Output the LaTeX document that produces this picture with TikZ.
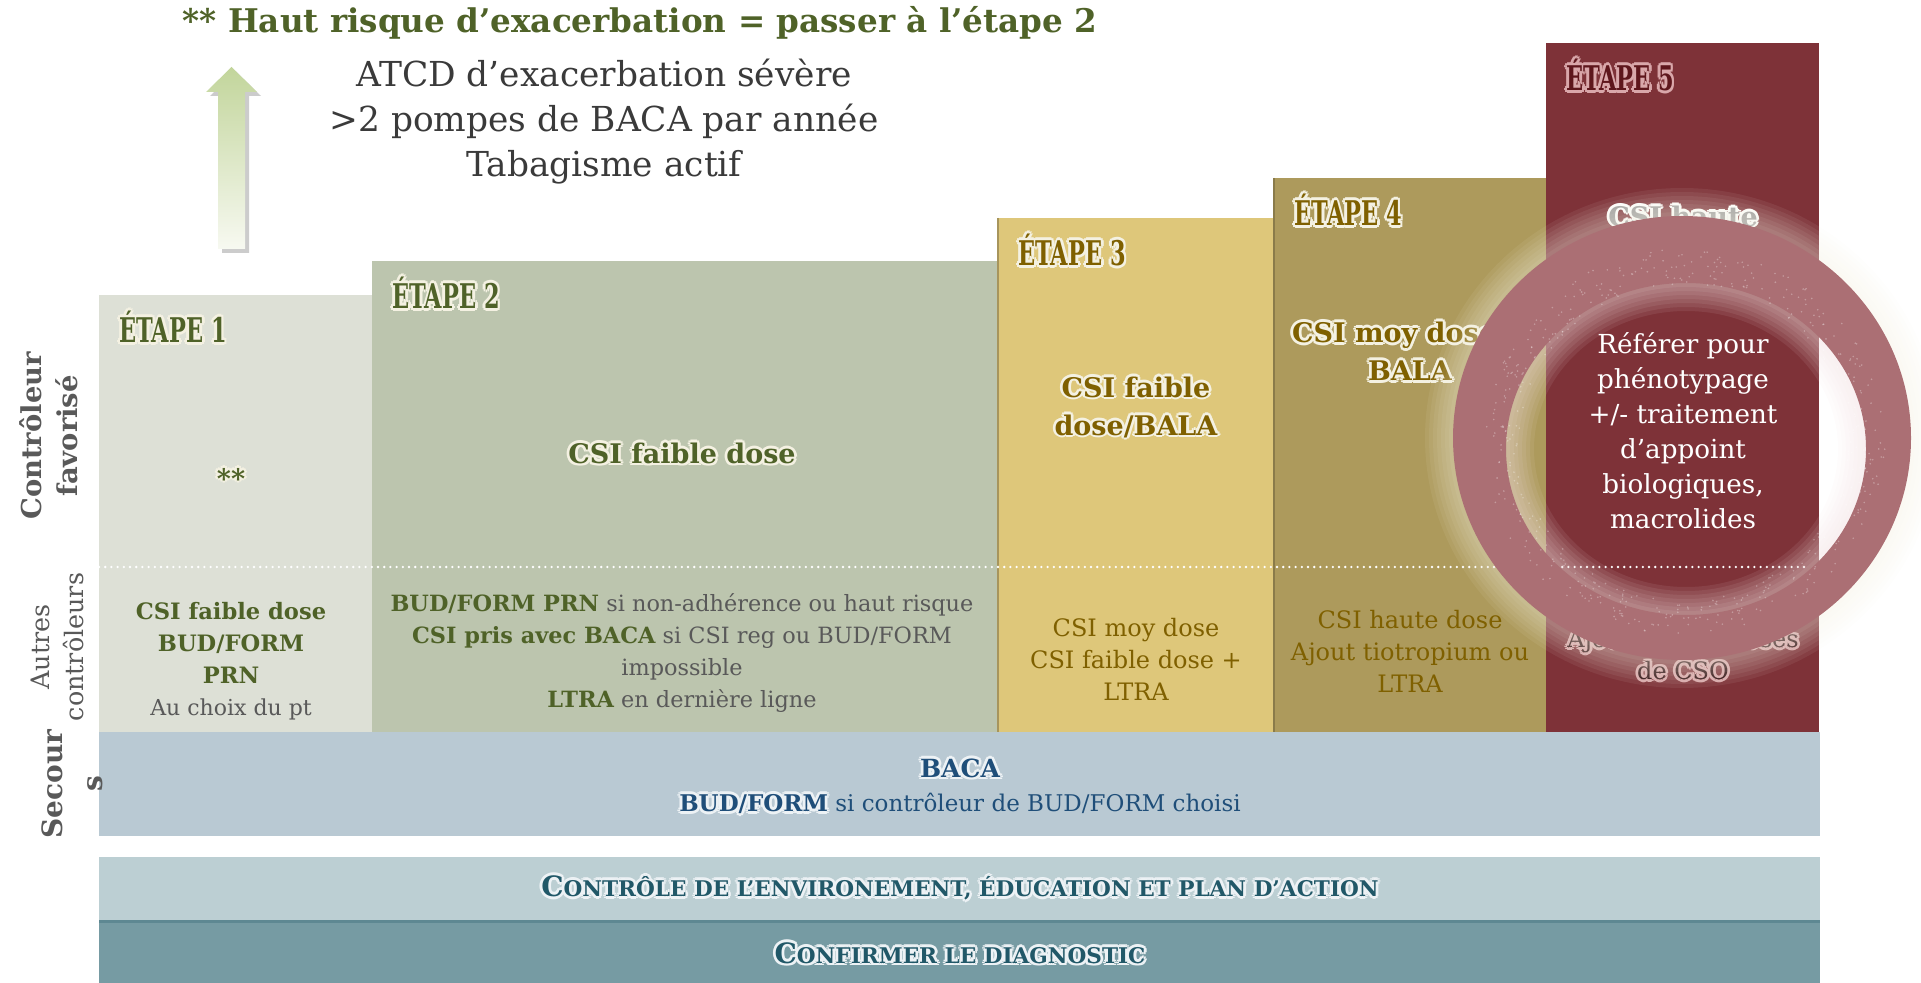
\documentclass[tikz,border=0pt]{standalone}
\usepackage{fontspec}
\setmainfont{DejaVu Serif}
\newfontfamily\etroite[FakeStretch=0.66]{DejaVu Serif}

\definecolor{etapeun}{HTML}{DDE0D6}
\definecolor{etapedeux}{HTML}{BCC5AE}
\definecolor{etapetrois}{HTML}{DEC77A}
\definecolor{etapequatre}{HTML}{AD9A5C}
\definecolor{etapecinq}{HTML}{7E3238}
\definecolor{secours}{HTML}{B9C9D3}
\definecolor{envbande}{HTML}{BCCFD3}
\definecolor{diagbande}{HTML}{769BA3}
\definecolor{diagligne}{HTML}{5E8892}
\definecolor{vertfonce}{HTML}{4F6228}
\definecolor{orfonce}{HTML}{7F6000}
\definecolor{gristexte}{HTML}{595959}
\definecolor{noirtexte}{HTML}{3A3A3A}
\definecolor{bleufonce}{HTML}{1F4E79}
\definecolor{sarcelle}{HTML}{215868}
\definecolor{bordeaux}{HTML}{5E161C}
\definecolor{anneau}{HTML}{AB6F74}
\definecolor{halo}{HTML}{F4F1E2}
\definecolor{halorose}{HTML}{D9A7AA}
\definecolor{halobleu}{HTML}{EDF2F5}
\definecolor{flechehaut}{HTML}{C2D59B}
\definecolor{flechebas}{HTML}{F7F9F1}

% texte avec une lueur claire autour
\newcommand\lueur[2][halo]{%
  \leavevmode\rlap{\color{#1}\foreach \ang in {0,45,...,315}{%
      \pgfmathsetlengthmacro\dx{1.4pt*cos(\ang)}%
      \pgfmathsetlengthmacro\dy{1.4pt*sin(\ang)}%
      \rlap{\hspace*{\dx}\raisebox{\dy}{#2}}}}%
  {#2}}
\newcommand\gv[1]{{\bfseries\color{vertfonce}#1}}

\begin{document}
\begin{tikzpicture}[x=0.5pt,y=-0.5pt,
  titreetape/.style={anchor=west, inner sep=0pt, font=\etroite\bfseries\fontsize{17}{20}\selectfont},
  favori/.style={align=center, font=\bfseries\fontsize{13.5}{19}\selectfont},
  autre/.style={align=center, font=\fontsize{11.3}{16}\selectfont},
  bande/.style={align=center, text=sarcelle, font=\bfseries\fontsize{10.8}{12}\selectfont},
  cote/.style={rotate=90, align=center, text=gristexte},
  filet/.style={line width=0.6pt}]
\useasboundingbox (0,0) rectangle (1921,983);

% etapes 1 a 5
\foreach \gauche/\droite/\haut/\fond/\encre/\aura/\num in
  {99/372/295/etapeun/vertfonce/halo/1,
   372/998/261/etapedeux/vertfonce/halo/2,
   998/1274/218/etapetrois/orfonce/halo/3,
   1274/1546/178/etapequatre/orfonce/halo/4,
   1546/1819/43/etapecinq/bordeaux/halorose/5} {
  \fill[\fond] (\gauche,\haut) rectangle (\droite,732);
  \node[titreetape, text=\encre] (etape\num) at (\gauche+20,\haut+32) {\lueur[\aura]{ÉTAPE \num}};
}
\draw[filet, etapetrois!75!black] (998,218) -- (998,732);
\draw[filet, etapequatre!80!black] (1274,178) -- (1274,732);

% separation favorise / autres
\draw[white, line width=1.3pt, line cap=round, dash pattern=on 0pt off 3.1pt] (99,567) -- (1807,567);

% controleur favorise
\node[favori, text=vertfonce] (fav1) at (231,478) {\lueur{**}};
\node[favori, text=vertfonce] (fav2) at (682,453) {\lueur{CSI faible dose}};
\node[favori, text=orfonce] (fav3) at (1136,407) {\lueur{CSI faible}\\\lueur{dose/BALA}};
\node[favori, text=orfonce] (fav4) at (1410,351) {\lueur{CSI moy dose +}\\\lueur{BALA}};
\node[favori, text=gristexte!60!white] (fav5) at (1683,236) {\lueur[white]{CSI haute}\\\lueur[white]{dose/BALA}};

% autres controleurs
\node[autre, text=gristexte] (autre1) at (231,661)
  {\gv{CSI faible dose}\\\gv{BUD/FORM}\\\gv{PRN}\\{\fontsize{11}{14}\selectfont Au choix du pt}};
\node[autre, text=gristexte, font=\fontsize{11.2}{16}\selectfont] (autre2) at (682,653)
  {\gv{BUD/FORM PRN} si non-adhérence ou haut risque\\\gv{CSI pris avec BACA} si CSI reg ou BUD/FORM\\impossible\\\gv{LTRA} en dernière ligne};
\node[autre, text=orfonce, font=\fontsize{12}{16}\selectfont] (autre3) at (1136,659) {CSI moy dose\\CSI faible dose +\\LTRA};
\node[autre, text=orfonce, font=\fontsize{12}{16}\selectfont] (autre4) at (1410,651) {CSI haute dose\\Ajout tiotropium ou\\LTRA};
\node[autre, text=bordeaux!45!black, font=\fontsize{12}{16}\selectfont] (autre5) at (1683,655)
  {\lueur[halorose]{Ajout petites doses}\\\lueur[halorose]{de CSO}};

% anneau de l'etape 5
\foreach \w in {4,8,...,28} {
  \draw[halo, line width=\w pt, opacity=0.07] (1682,438) ellipse (229 and 222);
  \draw[halorose!35!white, line width=\w pt, opacity=0.09] (1686,449) ellipse (180 and 166);
}
\fill[anneau, even odd rule] (1682,438) ellipse (229 and 222) (1686,449) ellipse (180 and 166);
\pgfmathsetseed{11}
\foreach \i in {1,...,500} {
  \pgfmathsetmacro\ang{rnd*360}
  \pgfmathsetmacro\ray{0.81+rnd*0.18}
  \fill[white, opacity=0.3] (1684,442) ++(\ang:{203*\ray} and {195*\ray}) circle (0.9);
}
\node[align=center, text=white, font=\fontsize{13.1}{17.5}\selectfont] (referer) at (1683,431)
  {Référer pour\\phénotypage\\+/- traitement\\d’appoint\\biologiques,\\macrolides};

% secours
\fill[secours] (99,732) rectangle (1820,836);
\node[bande, text=bleufonce, font=\bfseries\fontsize{12.5}{14}\selectfont] (baca) at (960,768) {\lueur[halobleu]{BACA}};
\node[align=center, text=bleufonce, font=\fontsize{11.5}{13}\selectfont] (budform) at (960,804)
  {\lueur[halobleu]{\bfseries BUD/FORM} si contrôleur de BUD/FORM choisi};

% bandes du bas
\fill[envbande] (99,857) rectangle (1820,920);
\fill[diagbande] (99,920) rectangle (1820,983);
\draw[diagligne, line width=1.5pt] (99,921) -- (1820,921);
\node[bande] (environ) at (960,888)
  {\lueur[halobleu]{{\fontsize{14}{14}\selectfont C}ONTRÔLE DE L’ENVIRONEMENT, ÉDUCATION ET PLAN D’ACTION}};
\node[bande] (diagnostic) at (960,953) {\lueur[halobleu]{{\fontsize{14}{14}\selectfont C}ONFIRMER LE DIAGNOSTIC}};

% libelles de gauche
\node[cote, font=\bfseries\fontsize{13.7}{18}\selectfont] (favorise) at (49,436) {Contrôleur\\favorisé};
\node[cote, font=\fontsize{12.7}{17}\selectfont] (autres) at (57,647) {Autres\\contrôleurs};
\node[cote, font=\bfseries\fontsize{14}{20}\selectfont] (secour) at (72,784) {Secour\\s};

% haut risque
\node[text=vertfonce, font=\bfseries\fontsize{16.3}{19}\selectfont] (risque) at (640,23)
  {** Haut risque d’exacerbation = passer à l’étape 2};
\node[align=center, text=noirtexte, font=\fontsize{17.2}{22.5}\selectfont] (criteres) at (604,122)
  {ATCD d’exacerbation sévère\\>2 pompes de BACA par année\\Tabagisme actif};
\fill[black, opacity=0.2] (222,253) -- (222,96) -- (210,96) -- (235.5,71) -- (261,96) -- (249,96) -- (249,253) -- cycle;
\shade[top color=flechehaut, bottom color=flechebas] (218,249) -- (218,92) -- (206,92) -- (231.5,67) -- (257,92) -- (245,92) -- (245,249) -- cycle;
\end{tikzpicture}
\end{document}
